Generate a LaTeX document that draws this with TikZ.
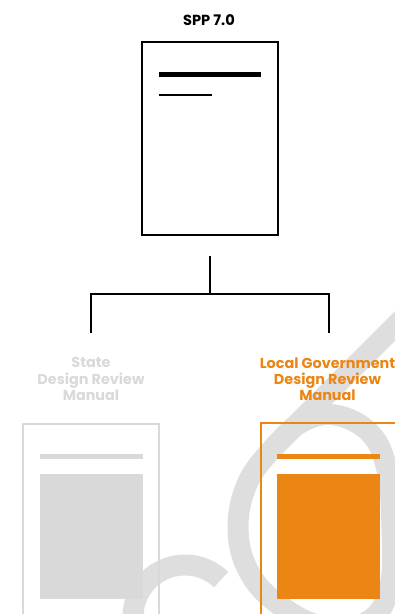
\documentclass[tikz,border=0pt]{standalone}
\usepackage{fontspec}
\setmainfont{Poppins}
\definecolor{orng}{HTML}{EB8514}
\definecolor{lgrey}{HTML}{D9D9D9}
\definecolor{wgrey}{HTML}{DEDEDE}
\begin{document}
\begin{tikzpicture}[x=1pt,y=-1pt,
  wm/.style={draw=wgrey, line width=21pt},
  docbox/.style={draw, line width=2pt, minimum width=136pt, inner sep=0pt, fill=none},
  lbl/.style={align=center, inner sep=0pt, font=\bfseries\fontsize{14.4}{16.4}\selectfont},
  conn/.style={draw=black, line width=2pt},
  bar/.style={fill=#1, draw=none}]
\useasboundingbox (0,0) rectangle (395,614);
\clip (0,0) rectangle (395,614);
% watermark
\draw[wm] plot[smooth cycle, tension=0.65] coordinates {(335,415) (370,433) (387,470) (392,530) (390,585) (370,620) (325,627) (278,604) (248,570) (238,527) (248,482) (275,446) (302,422)};
\draw[wm] (272,449) -- (415,306);
\draw[wm, variable=\t, domain=46:205, samples=60] plot ({185+52*cos(\t)},{617-52*sin(\t)});
% title
\node[font=\bfseries\fontsize{14.6}{15}\selectfont, inner sep=0pt] (title) at (209,20.5) {SPP 7.0};
% top document
\node[docbox, minimum height=193pt] (spp) at (210,138.5) {};
\draw[line width=5pt] (159,74) -- (261,74);
\draw[line width=2.2pt] (159,95) -- (212,95);
% connectors
\coordinate (top) at (210,256);
\coordinate (j) at (210,294);
\coordinate (jl) at (91,294);
\coordinate (jr) at (329,294);
\coordinate (el) at (91,333);
\coordinate (er) at (329,333);
\draw[conn] (top) -- (j);
\draw[conn] (el) -- (jl) -- (jr) -- (er);
% labels
\node[lbl, text=lgrey] (sl) at (91,379.3) {State\\Design Review\\Manual};
\node[lbl, text=orng] (ll) at (327.5,379.3) {Local Government\\Design Review\\Manual};
% left document
\node[docbox, draw=lgrey, minimum height=230pt] (sd) at (91,539) {};
\fill[lgrey] (40,454) rectangle (143,459);
\fill[lgrey] (40,474) rectangle (143,599);
% right document
\node[docbox, draw=orng, minimum height=230pt] (ld) at (329,538) {};
\fill[orng] (277,454) rectangle (380,459);
\fill[orng] (277,474) rectangle (380,599);
\end{tikzpicture}
\end{document}
